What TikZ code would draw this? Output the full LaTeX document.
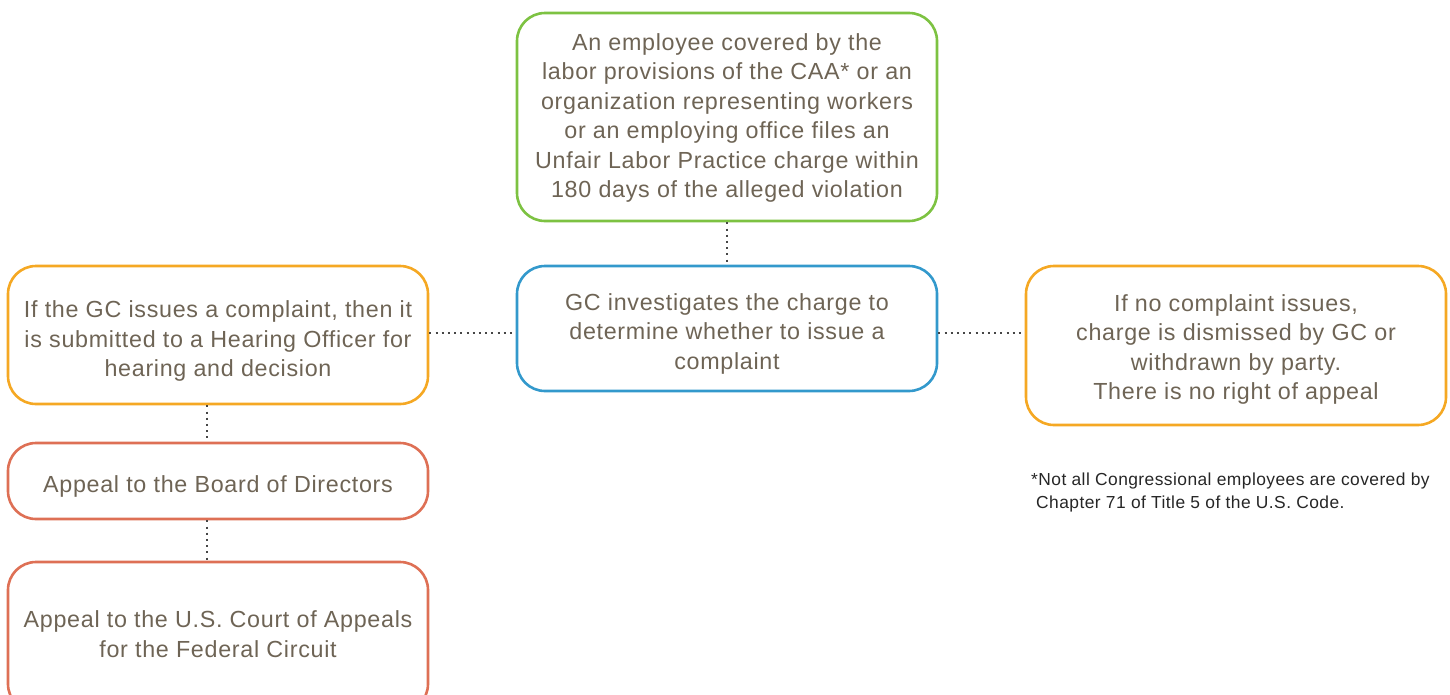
\documentclass[tikz,border=0pt]{standalone}
\usepackage{fontspec}
\setmainfont{Liberation Sans}
\newfontfamily\boxfont[LetterSpace=3]{Liberation Sans}
\newfontfamily\notefont[LetterSpace=2.5]{Liberation Sans}
\definecolor{txt}{RGB}{110,100,85}
\definecolor{cgreen}{RGB}{125,194,66}
\definecolor{cblue}{RGB}{51,153,204}
\definecolor{corange}{RGB}{245,168,35}
\definecolor{cred}{RGB}{222,112,85}
\definecolor{dotc}{RGB}{70,70,70}
\begin{document}
\begin{tikzpicture}[x=1pt,y=-1pt,
  box/.style={draw, line width=2.6pt, rounded corners=28pt, minimum width=420pt, inner sep=0pt},
  boxtxt/.style={align=center, text=txt, inner sep=0pt, font=\boxfont\fontsize{23.3}{29.5}\selectfont},
  conn/.style={draw=dotc, line width=2pt, dash pattern=on 2pt off 4.2pt}]
\useasboundingbox (0,0) rectangle (1450,694);
\node[box, draw=cgreen, minimum height=208pt] (top) at (727,117) {};
\node[boxtxt] (topt) at ([yshift=-1pt]top.center) {An employee covered by the\\labor provisions of the CAA* or an\\organization representing workers\\or an employing office files an\\Unfair Labor Practice charge within\\180 days of the alleged violation};
\node[box, draw=cblue, minimum height=125pt] (mid) at (727,328.5) {};
\node[boxtxt] (midt) at ([yshift=-5pt]mid.center) {GC investigates the charge to\\determine whether to issue a\\complaint};
\node[box, draw=corange, minimum height=138pt] (left) at (218,335) {};
\node[boxtxt] (leftt) at ([yshift=-6pt]left.center) {If the GC issues a complaint, then it\\is submitted to a Hearing Officer for\\hearing and decision};
\node[box, draw=corange, minimum height=159pt] (right) at (1236,345.5) {};
\node[boxtxt] (rightt) at ([yshift=-4pt]right.center) {If no complaint issues,\\charge is dismissed by GC or\\withdrawn by party.\\There is no right of appeal};
\node[box, draw=cred, minimum height=76pt] (board) at (218,481) {};
\node[boxtxt] (boardt) at ([yshift=-5pt]board.center) {Appeal to the Board of Directors};
\node[box, draw=cred, minimum height=150pt] (court) at (218,637) {};
\node[boxtxt] (courtt) at ([yshift=3pt]court.center) {Appeal to the U.S. Court of Appeals\\for the Federal Circuit};
\node[anchor=north west, align=left, inner sep=0pt, text=black!85,
  font=\notefont\fontsize{17.4}{23}\selectfont] (note) at (1031,473) {*Not all Congressional employees are covered by\\\hspace*{5pt}Chapter 71 of Title 5 of the U.S. Code.};
\draw[conn] (top.south) -- (mid.north);
\draw[conn] (left.east |- 0,333) -- (mid.west |- 0,333);
\draw[conn] (mid.east |- 0,333) -- (right.west |- 0,333);
\draw[conn] (left.south -| 207,0) -- (board.north -| 207,0);
\draw[conn] (board.south -| 207,0) -- (court.north -| 207,0);
\end{tikzpicture}
\end{document}
